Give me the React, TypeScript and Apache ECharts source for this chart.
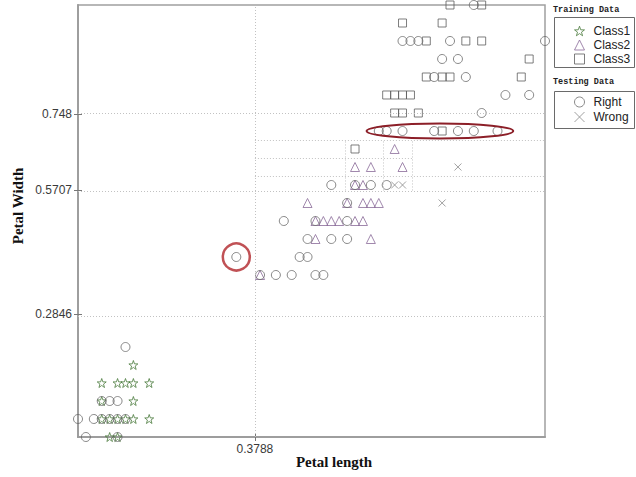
import React, { useEffect, useRef } from "react";
import * as echarts from "echarts";

// Normalised petal measurements, grouped by row: [petal width, [petal lengths...]]
type Row = [number, number[]];

const class1Rows: Row[] = [
  [0, [0.0678, 0.0847]],
  [0.0417, [0.0508, 0.0678, 0.0847, 0.1017, 0.1186, 0.1525]],
  [0.0833, [0.0508, 0.1186]],
  [0.125, [0.0508, 0.0847, 0.1017, 0.1186, 0.1525]],
  [0.1667, [0.1186]],
];

const class2Rows: Row[] = [
  [0.375, [0.3898]],
  [0.4583, [0.5085, 0.6271]],
  [0.5, [0.5085, 0.5254, 0.5424, 0.5593, 0.5932, 0.6102]],
  [0.5417, [0.4915, 0.5763, 0.6102, 0.6271, 0.6441]],
  [0.5833, [0.5932, 0.6102]],
  [0.625, [0.5932, 0.6271, 0.6949]],
  [0.6667, [0.678]],
];

const class3Rows: Row[] = [
  [0.6667, [0.5932]],
  [0.7083, [0.7797]],
  [0.75, [0.678, 0.6949, 0.7288]],
  [0.7917, [0.661, 0.678, 0.6949, 0.7119]],
  [0.8333, [0.7458, 0.7797, 0.7966, 0.9492]],
  [0.875, [0.9661]],
  [0.9167, [0.7458, 0.8305, 0.8644]],
  [0.9583, [0.6949, 0.7797]],
  [1, [0.7966, 0.8644]],
];

const rightRows: Row[] = [
  [0, [0.0169, 0.0847]],
  [0.0417, [0, 0.0339, 0.0508, 0.0678, 0.0847, 0.1017]],
  [0.0833, [0.0508, 0.0678, 0.0847]],
  [0.2083, [0.1017]],
  [0.375, [0.3898, 0.4237, 0.4576, 0.5085, 0.5254]],
  [0.4167, [0.339, 0.4746, 0.4915]],
  [0.4583, [0.4915, 0.5424, 0.5763]],
  [0.5, [0.4407, 0.5085, 0.5763]],
  [0.5417, [0.5763]],
  [0.5833, [0.5424, 0.5932, 0.6271, 0.661]],
  [0.7083, [0.6441, 0.661, 0.6949, 0.7627, 0.8136, 0.8475, 0.8983]],
  [0.75, [0.8644]],
  [0.7917, [0.9153, 0.9661]],
  [0.8333, [0.7627, 0.8305]],
  [0.875, [0.7797, 0.8136]],
  [0.9167, [0.6949, 0.7119, 0.7288, 0.7966, 1]],
  [1, [0.8475]],
];

const wrongRows: Row[] = [
  [0.5417, [0.7797]],
  [0.5833, [0.678, 0.6949]],
  [0.625, [0.8136]],
];

// Axis ticks (split thresholds)
const xTicks = [0.3788];
const yTicks = [0.2846, 0.5707, 0.748];

// Secondary split boundaries: [[x1, y1], [x2, y2]]
const cutSegments: [number, number][][] = [
  [[0.3788, 0.6875], [1, 0.6875]],
  [[0.3788, 0.604], [1, 0.604]],
  [[0.3788, 0.646], [0.716, 0.646]],
  [[0.572, 0.5707], [0.572, 0.6875]],
  [[0.653, 0.5707], [0.653, 0.6875]],
  [[0.716, 0.5707], [0.716, 0.6875]],
];

// Highlighted sample and highlighted row (oval spans these x values)
const ringedPoint: [number, number] = [0.339, 0.4167];
const ovalRow = 0.7083;
const ovalSpan: [number, number] = [0.618, 0.932];

const STAR =
  "path://M5,0L6.18,3.38L9.76,3.45L6.9,5.62L7.94,9.05L5,7L2.06,9.05L3.1,5.62L0.24,3.45L3.82,3.38Z";
const CROSS = "path://M0,0L10,10M10,0L0,10";

const toPoints = (rows: Row[]) =>
  rows.flatMap(([y, xs]) => xs.map((x) => [x, y]));

const C1 = "#4a7a3c";
const C2 = "#8a6a98";
const C3 = "#5e5e5e";
const CR = "#6c6c6c";
const CW = "#8a8a8a";

export default function App() {
  const ref = useRef<HTMLDivElement>(null);

  useEffect(() => {
    if (!ref.current) return;
    const chart = echarts.init(ref.current, null, { renderer: "svg" });

    const hollow = (c: string) => ({
      color: "rgba(0,0,0,0)",
      borderColor: c,
      borderWidth: 1,
    });

    const gridLine = { type: [1, 2] as any, color: "#c2c2c2", width: 1 };

    const markLineData: any[] = [
      ...xTicks.map((v) => ({ xAxis: v })),
      ...yTicks.map((v) => ({ yAxis: v })),
      ...cutSegments.map(([a, b]) => [{ coord: a }, { coord: b }]),
    ];

    const labelFont = {
      fontFamily: "Liberation Sans",
      fontSize: 12,
      color: "#3a3a3a",
    };

    const titleFont = 'bold 8.5px "Liberation Mono"';
    const axisTitleFont = 'bold 15px "Liberation Serif"';

    chart.setOption({
      animation: false,
      backgroundColor: "#ffffff",
      grid: {
        left: 78,
        top: 5,
        width: 467,
        height: 432,
        show: true,
        borderColor: "#a0a0a0",
        borderWidth: 1.5,
      },
      xAxis: [
        {
          type: "value",
          min: 0,
          max: 1,
          splitLine: { show: false },
          axisLine: { lineStyle: { color: "#8c8c8c", width: 1.5 } },
          axisTick: {
            inside: true,
            length: 4,
            customValues: xTicks,
            lineStyle: { color: "#777" },
          },
          axisLabel: {
            customValues: xTicks,
            formatter: (v: number) => String(v),
            margin: 6,
            ...labelFont,
          },
        },
        {
          type: "value",
          position: "top",
          min: 0,
          max: 1,
          splitLine: { show: false },
          axisLine: { lineStyle: { color: "#a0a0a0", width: 1.5 } },
          axisTick: {
            inside: true,
            length: 4,
            customValues: xTicks,
            lineStyle: { color: "#777" },
          },
          axisLabel: { show: false },
        },
      ],
      yAxis: [
        {
          type: "value",
          min: 0,
          max: 1,
          splitLine: { show: false },
          axisLine: { lineStyle: { color: "#8c8c8c", width: 1.5 } },
          axisTick: {
            inside: true,
            length: 4,
            customValues: yTicks,
            lineStyle: { color: "#777" },
          },
          axisLabel: {
            customValues: yTicks,
            formatter: (v: number) => String(v),
            margin: 6,
            ...labelFont,
          },
        },
        {
          type: "value",
          position: "right",
          min: 0,
          max: 1,
          splitLine: { show: false },
          axisLine: { lineStyle: { color: "#a0a0a0", width: 1.5 } },
          axisTick: {
            inside: true,
            length: 4,
            customValues: yTicks,
            lineStyle: { color: "#777" },
          },
          axisLabel: { show: false },
        },
      ],
      legend: [
        {
          orient: "vertical",
          left: 569,
          top: 20,
          itemWidth: 10,
          itemHeight: 10,
          itemGap: 2,
          selectedMode: false,
          textStyle: { fontFamily: "Liberation Sans", fontSize: 12, color: "#222", padding: [0, 0, 0, 4] },
          data: [
            { name: "Class1", icon: STAR, itemStyle: hollow(C1) },
            { name: "Class2", icon: "triangle", itemStyle: hollow(C2) },
            { name: "Class3", icon: "rect", itemStyle: hollow(C3) },
          ],
        },
        {
          orient: "vertical",
          left: 569,
          top: 91,
          itemWidth: 10,
          itemHeight: 10,
          itemGap: 3,
          selectedMode: false,
          textStyle: { fontFamily: "Liberation Sans", fontSize: 12, color: "#222", padding: [0, 0, 0, 4] },
          data: [
            { name: "Right", icon: "circle", itemStyle: hollow(CR) },
            { name: "Wrong", icon: CROSS, itemStyle: hollow(CW) },
          ],
        },
      ],
      graphic: [
        {
          id: "trainTitle",
          type: "text",
          x: 553,
          y: 5,
          style: { text: "Training Data", font: titleFont, fill: "#222" },
        },
        {
          id: "trainBox",
          type: "rect",
          shape: { x: 554.5, y: 17.5, width: 80, height: 50 },
          style: { fill: "none", stroke: "#6a6a6a", lineWidth: 1 },
        },
        {
          id: "testTitle",
          type: "text",
          x: 553,
          y: 77,
          style: { text: "Testing Data", font: titleFont, fill: "#222" },
        },
        {
          id: "testBox",
          type: "rect",
          shape: { x: 554.5, y: 91.5, width: 80, height: 37 },
          style: { fill: "none", stroke: "#6a6a6a", lineWidth: 1 },
        },
        {
          id: "xTitle",
          type: "text",
          x: 334,
          y: 462,
          style: {
            text: "Petal length",
            font: axisTitleFont,
            fill: "#111",
            textAlign: "center",
            textVerticalAlign: "middle",
          },
        },
        {
          id: "yTitle",
          type: "text",
          x: 18,
          y: 206,
          rotation: Math.PI / 2,
          style: {
            text: "Petal Width",
            font: axisTitleFont,
            fill: "#111",
            textAlign: "center",
            textVerticalAlign: "middle",
          },
        },
      ],
      series: [
        {
          name: "grid",
          type: "line",
          data: [],
          silent: true,
          markLine: {
            silent: true,
            symbol: ["none", "none"],
            label: { show: false },
            lineStyle: gridLine,
            emphasis: { disabled: true },
            data: markLineData,
          },
        },
        {
          name: "Class1",
          type: "scatter",
          symbol: STAR,
          symbolSize: 9,
          itemStyle: hollow(C1),
          data: toPoints(class1Rows),
        },
        {
          name: "Class2",
          type: "scatter",
          symbol: "triangle",
          symbolSize: 9,
          itemStyle: hollow(C2),
          data: toPoints(class2Rows),
        },
        {
          name: "Class3",
          type: "scatter",
          symbol: "rect",
          symbolSize: 8,
          itemStyle: hollow(C3),
          data: toPoints(class3Rows),
        },
        {
          name: "Right",
          type: "scatter",
          symbol: "circle",
          symbolSize: 9,
          itemStyle: hollow(CR),
          data: toPoints(rightRows),
        },
        {
          name: "Wrong",
          type: "scatter",
          symbol: CROSS,
          symbolSize: 7,
          itemStyle: hollow(CW),
          data: toPoints(wrongRows),
        },
        {
          name: "ring",
          type: "scatter",
          silent: true,
          symbol: "circle",
          symbolSize: 27,
          itemStyle: { color: "rgba(0,0,0,0)", borderColor: "#b0262a", borderWidth: 2.5 },
          data: [ringedPoint],
        },
      ],
    });

    // Oval around the highlighted row, placed through the axis scales
    const a = chart.convertToPixel({ gridIndex: 0 }, [ovalSpan[0], ovalRow]) as number[];
    const b = chart.convertToPixel({ gridIndex: 0 }, [ovalSpan[1], ovalRow]) as number[];
    if (a && b) {
      chart.setOption({
        graphic: [
          {
            id: "oval",
            type: "ellipse",
            silent: true,
            z: 10,
            shape: { cx: (a[0] + b[0]) / 2, cy: a[1], rx: (b[0] - a[0]) / 2, ry: 7.5 },
            style: { fill: "none", stroke: "#8c1f28", lineWidth: 2 },
          },
        ],
      });
    }

    return () => chart.dispose();
  }, []);

  return (
    <div
      ref={ref}
      style={{ position: "fixed", left: 0, top: 0, width: 636, height: 477, background: "#fff" }}
    />
  );
}
